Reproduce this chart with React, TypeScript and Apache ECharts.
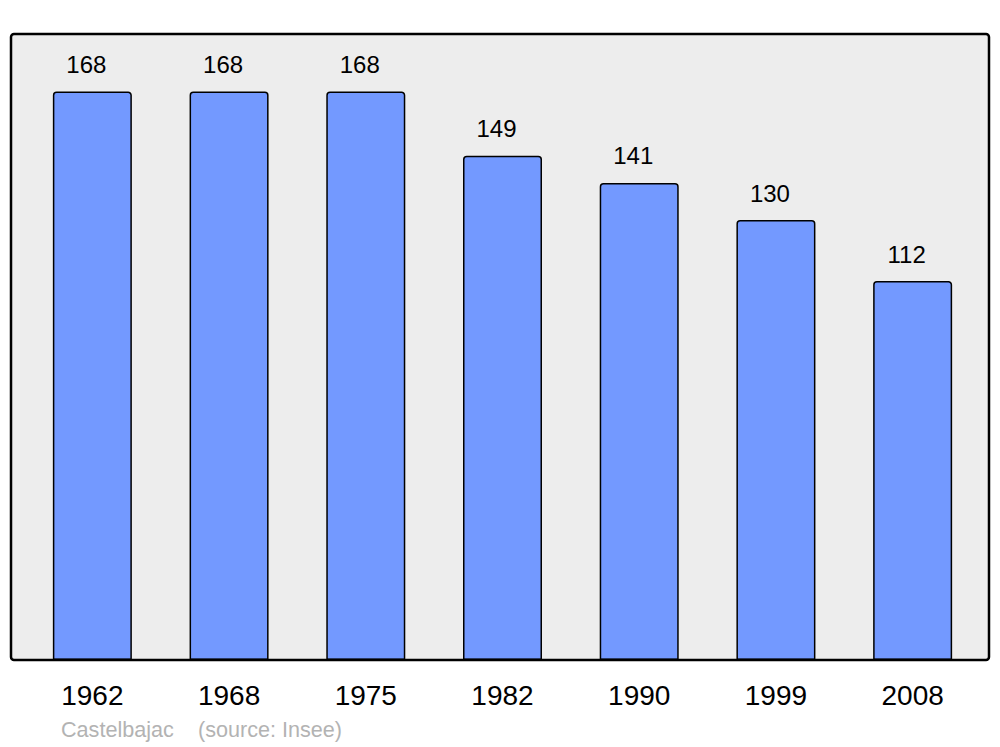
import React, { useEffect, useRef } from "react";
import * as echarts from "echarts";

const years = ["1962", "1968", "1975", "1982", "1990", "1999", "2008"];
const population = [168, 168, 168, 149, 141, 130, 112];
const townName = "Castelbajac";
const sourceText = "(source: Insee)";

export default function App() {
  const ref = useRef<HTMLDivElement>(null);
  useEffect(() => {
    document.body.style.margin = "0";
    const chart = echarts.init(ref.current!, null, { renderer: "svg" });
    chart.setOption({
      animation: false,
      backgroundColor: "#ffffff",
      grid: { left: 24, right: 19, top: 34, bottom: 87 },
      xAxis: {
        type: "category",
        data: years,
        axisLine: { show: false },
        axisTick: { show: false },
        axisLabel: {
          color: "#000",
          fontSize: 28,
          fontFamily: "Liberation Sans, Arial, sans-serif",
          margin: 21,
        },
      },
      yAxis: {
        type: "value",
        min: 0,
        max: 185,
        show: false,
        splitLine: { show: false },
      },
      graphic: [
        {
          type: "rect",
          z: -10,
          shape: { x: 11, y: 34, width: 978, height: 626, r: 3 },
          style: { fill: "#ededed", stroke: "none" },
        },
        {
          type: "rect",
          z: 100,
          shape: { x: 11, y: 34, width: 978, height: 626, r: 3 },
          style: { fill: "none", stroke: "#000", lineWidth: 2.5 },
        },
        {
          type: "text",
          x: 61,
          y: 729,
          style: {
            text: townName,
            fill: "#b3b3b3",
            fontSize: 21.6,
            fontFamily: "Liberation Sans, Arial, sans-serif",
            verticalAlign: "middle",
          },
        },
        {
          type: "text",
          x: 198,
          y: 729,
          style: {
            text: sourceText,
            fill: "#b3b3b3",
            fontSize: 21.6,
            fontFamily: "Liberation Sans, Arial, sans-serif",
            verticalAlign: "middle",
          },
        },
      ],
      series: [
        {
          type: "bar",
          data: population,
          barWidth: 79,
          itemStyle: {
            color: "#7399ff",
            borderColor: "#000",
            borderWidth: 1.5,
            borderRadius: [3, 3, 0, 0],
          },
          label: {
            show: true,
            position: "top",
            distance: 15,
            offset: [-6, 0],
            color: "#000",
            fontSize: 24,
            fontFamily: "Liberation Sans, Arial, sans-serif",
          },
        },
      ],
    });
    return () => chart.dispose();
  }, []);
  return <div ref={ref} style={{ width: 1000, height: 747 }} />;
}
